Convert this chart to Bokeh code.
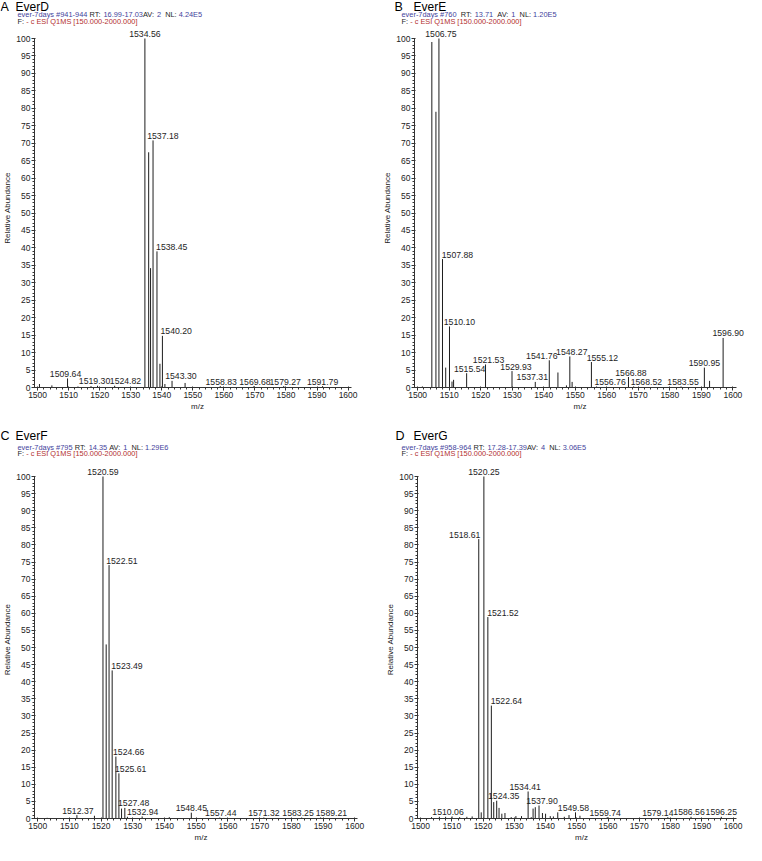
from bokeh.plotting import figure
from bokeh.models import Range1d, SingleIntervalTicker, LabelSet, ColumnDataSource
from bokeh.layouts import row, column
from bokeh.core.properties import value
from bokeh.embed import file_html
from bokeh.resources import INLINE

# ---------------- data ----------------
# Panel A  EverD
mz_A = [1500.6, 1504.6, 1509.64, 1513.0, 1517.2, 1519.30, 1524.82, 1534.56, 1535.77, 1536.38,
        1537.18, 1538.45, 1539.40, 1540.20, 1541.00, 1543.30, 1547.50, 1558.83, 1569.68,
        1579.27, 1591.79]
ab_A = [1.0, 0.6, 2.6, 0.3, 0.4, 0.5, 0.5, 100.0, 67.4, 34.2,
        70.8, 39.0, 6.8, 14.8, 1.0, 1.9, 1.3, 0.4, 0.4,
        0.4, 0.4]
lab_A = [1534.56, 1537.18, 1538.45, 1540.20, 1543.30, 1509.64, 1519.30, 1524.82,
         1558.83, 1569.68, 1579.27, 1591.79]

# Panel B  EverE
mz_B = [1501.5, 1504.50, 1505.80, 1506.75, 1507.88, 1508.90, 1510.10, 1510.90, 1511.40,
        1515.54, 1521.53, 1529.93, 1537.31, 1541.76, 1544.50, 1547.20, 1548.27, 1549.00,
        1555.12, 1556.76, 1566.88, 1568.52, 1583.55, 1590.95, 1592.60, 1596.90]
ab_B = [0.3, 99.0, 79.0, 100.0, 36.8, 5.7, 17.5, 1.7, 2.2,
        4.1, 6.6, 4.7, 1.6, 7.8, 4.3, 0.6, 8.9, 1.6,
        7.3, 0.3, 3.0, 0.3, 0.3, 5.7, 1.9, 14.2]
lab_B = [1506.75, 1507.88, 1510.10, 1515.54, 1521.53, 1529.93, 1537.31, 1541.76,
         1548.27, 1555.12, 1556.76, 1566.88, 1568.52, 1583.55, 1590.95, 1596.90]

# Panel C  EverF
mz_C = [1503.0, 1512.37, 1517.90, 1520.59, 1521.60, 1522.51, 1523.49, 1524.66, 1525.61,
        1526.45, 1527.48, 1528.30, 1532.94, 1541.50, 1548.45, 1557.44, 1571.32, 1583.25,
        1589.21]
ab_C = [0.2, 1.0, 0.8, 100.0, 50.9, 74.1, 43.3, 18.1, 13.2,
        2.9, 3.1, 0.5, 0.6, 0.4, 1.7, 0.3, 0.3, 0.3,
        0.3]
lab_C = [1520.59, 1522.51, 1523.49, 1524.66, 1525.61, 1527.48, 1532.94, 1512.37,
         1548.45, 1557.44, 1571.32, 1583.25, 1589.21]

# Panel D  EverG
mz_D = [1503.5, 1506.0, 1508.0, 1510.06, 1512.5, 1514.8, 1516.5, 1518.61, 1519.40, 1520.25,
        1521.52, 1522.64, 1523.40, 1524.35, 1525.10, 1526.00, 1527.00, 1529.00, 1530.50,
        1532.30, 1534.41, 1535.40, 1536.00, 1536.70, 1537.90, 1539.00, 1540.00, 1541.50,
        1542.50, 1543.90, 1546.00, 1547.50, 1549.58, 1551.00, 1559.74, 1579.14, 1586.56,
        1596.25]
ab_D = [0.4, 0.5, 0.5, 0.6, 0.4, 0.5, 0.6, 81.7, 1.8, 100.0,
        58.9, 33.0, 4.8, 5.2, 3.1, 1.4, 1.6, 0.4, 0.7,
        0.7, 7.9, 0.4, 2.9, 3.3, 3.8, 1.6, 1.4, 0.7,
        0.6, 1.8, 0.5, 1.0, 1.8, 0.8, 0.4, 0.4, 0.5,
        0.5]
lab_D = [1518.61, 1520.25, 1521.52, 1522.64, 1524.35, 1534.41, 1537.90, 1549.58,
         1559.74, 1579.14, 1586.56, 1596.25, 1510.06]

# header texts
letters = ["A", "B", "C", "D"]
names = ["EverD", "EverE", "EverF", "EverG"]
scan_ids = ["#941-944", "#760", "#795", "#958-964"]
rt_vals = ["16.99-17.03", "13.71", "14.35", "17.28-17.39"]
av_vals = ["2", "1", "1", "4"]
nl_vals = ["4.24E5", "1.20E5", "1.29E6", "3.06E5"]
filter_text = "- c ESI Q1MS [150.000-2000.000]"

# ---------------- style ----------------
FONT = "Liberation Sans"
BLUE = "#3f3f9c"
RED = "#b3302e"
INK = "#1e1e1e"

# horizontal nudge of each peak label's centre, in pixels (layout style)
shift_A = [0, 10, 15, 14, 9, -2, -3, 11, 1, 1, 1.5, 0]
shift_B = [2, 15, 10, 3, 3, 4, -3, -7.5, 2, 11, 13.5, 2.5, 12.7, 2, 0, 5]
shift_C = [0, 13, 15, 13, 12, 9, 0.5, 1, 0, 1, 0, -3.7, 11]
shift_D = [-14, 0, 15, 15, 7, -3, 3, -2, -2, -10, -2, 0, -4]

AW = {" ": .278, "#": .556, "-": .333, ".": .278, ":": .278, "[": .278, "]": .278,
      "A": .667, "C": .722, "D": .722, "E": .667, "F": .611, "I": .278, "L": .556,
      "M": .833, "N": .722, "Q": .778, "R": .722, "S": .667, "T": .611, "V": .667,
      "a": .556, "c": .5, "d": .556, "e": .556, "r": .333, "s": .5, "v": .5, "y": .5}


def tw(s, size):
    return sum(AW.get(ch, .556) for ch in s) * size


W = 373
X0, X1 = 1499.0, 1604.0


def make_header(i, H, lx, nx, ix, y_h, y_1, y_2):
    h = figure(width=W, height=H, output_backend="svg", toolbar_location=None,
               x_range=Range1d(0, W), y_range=Range1d(H, 0),
               x_axis_location=None, y_axis_location=None, min_border=0)
    h.frame_align = False
    h.min_border_left = h.min_border_right = h.min_border_top = h.min_border_bottom = 0
    h.grid.visible = False
    h.outline_line_color = None
    h.background_fill_color = "white"
    h.border_fill_color = "white"
    h.text(x=[lx], y=[y_h], text=[letters[i]], text_font=value(FONT), text_font_size=value("12.5px"),
           text_color="black", text_align="left", text_baseline="middle")
    h.text(x=[nx], y=[y_h], text=[names[i]], text_font=value(FONT), text_font_size=value("12px"),
           text_color="black", text_align="left", text_baseline="middle")
    fs = 7.4
    sp2 = "  " if i == 1 else " "
    line1 = [("ever-7days " + scan_ids[i] + sp2, BLUE), ("RT: ", INK), (rt_vals[i], BLUE),
             ("AV: " if i in (0, 3) else sp2 + "AV: ", INK), (av_vals[i], BLUE), ("  NL: ", INK),
             (nl_vals[i], BLUE)]
    line2 = [("F: ", INK), (filter_text, RED)]
    xs_, ys_, ts_, cs_ = [], [], [], []
    for segs, yy in ((line1, y_1), (line2, y_2)):
        cur = ix
        for txt, col in segs:
            lead = txt[:len(txt) - len(txt.lstrip())]
            xs_.append(cur + tw(lead, fs))
            ys_.append(yy)
            ts_.append(txt.strip())
            cs_.append(col)
            cur += tw(txt, fs)
    h.text(x="x", y="y", text="t", text_color="c",
           source=ColumnDataSource(dict(x=xs_, y=ys_, t=ts_, c=cs_)),
           text_font=value(FONT), text_font_size=value(f"{fs}px"),
           text_align="left", text_baseline="middle")
    return h


def make_panel(mz, ab, labs, shifts, H, bl, br, bb, y100_px):
    fh = H - bb
    ys = (fh - y100_px) / 100.0
    ytop = fh / ys
    xs = (W - bl - br) / (X1 - X0)

    p = figure(width=W, height=H, output_backend="svg", toolbar_location=None,
               x_range=Range1d(X0, X1), y_range=Range1d(0, ytop),
               min_border_left=bl, min_border_right=br, min_border_bottom=bb, min_border_top=0)
    p.frame_align = False
    p.outline_line_color = None
    p.grid.visible = False
    p.background_fill_color = "white"
    p.border_fill_color = "white"

    src = ColumnDataSource(dict(mz=mz, ab=ab))
    p.segment(x0="mz", y0=0, x1="mz", y1="ab", source=src, line_color=INK, line_width=1)

    # peak labels
    lx = [m + s / xs for m, s in zip(labs, shifts)]
    ly = [ab[mz.index(m)] + 1.5 / ys for m in labs]
    lt = [f"{m:.2f}" for m in labs]
    p.add_layout(LabelSet(x="x", y="y", text="t", source=ColumnDataSource(dict(x=lx, y=ly, t=lt)),
                          text_align="center", text_baseline="bottom", text_font=value(FONT),
                          text_font_size=value("8.7px"), text_color=INK))

    # axes
    p.xaxis.ticker = SingleIntervalTicker(interval=10, num_minor_ticks=5)
    p.yaxis.ticker = SingleIntervalTicker(interval=5, num_minor_ticks=5)
    p.yaxis.bounds = (0, 100)
    p.xaxis.bounds = (X0, 1601)
    p.xaxis.axis_label = "m/z"
    p.yaxis.axis_label = "Relative Abundance"
    for ax in (p.xaxis, p.yaxis):
        ax.axis_line_color = "#333333"
        ax.major_tick_line_color = "#333333"
        ax.minor_tick_line_color = "#333333"
        ax.major_label_text_font = FONT
        ax.major_label_text_font_size = "8.5px"
        ax.major_label_text_color = "#222222"
        ax.axis_label_text_font = FONT
        ax.axis_label_text_font_size = "8px"
        ax.axis_label_text_font_style = "normal"
        ax.axis_label_text_color = "#222222"
        ax.major_tick_in = 1
        ax.major_tick_out = 3
        ax.minor_tick_in = 0
        ax.minor_tick_out = 2
        ax.major_label_standoff = 1
        ax.axis_label_standoff = 1
    return p


hA = make_header(0, 28, 0, 15, 17, 6, 14, 21)
hB = make_header(1, 28, 21, 40, 28, 6, 14, 21)
hC = make_header(2, 38, 0, 15, 17, 13, 25, 31)
hD = make_header(3, 38, 22, 40, 28, 13, 25, 31)

pA = make_panel(mz_A, ab_A, lab_A, shift_A, 394, 29, 13, 35, 10)
pB = make_panel(mz_B, ab_B, lab_B, shift_B, 394, 41, 1, 35, 10)
pC = make_panel(mz_C, ab_C, lab_C, shift_C, 385, 29, 6, 27, 16)
pD = make_panel(mz_D, ab_D, lab_D, shift_D, 385, 44, 1, 27, 16)

root = column(row(column(hA, pA), column(hB, pB)),
              row(column(hC, pC), column(hD, pD)))
open("out.html", "w").write(file_html(root, INLINE))
